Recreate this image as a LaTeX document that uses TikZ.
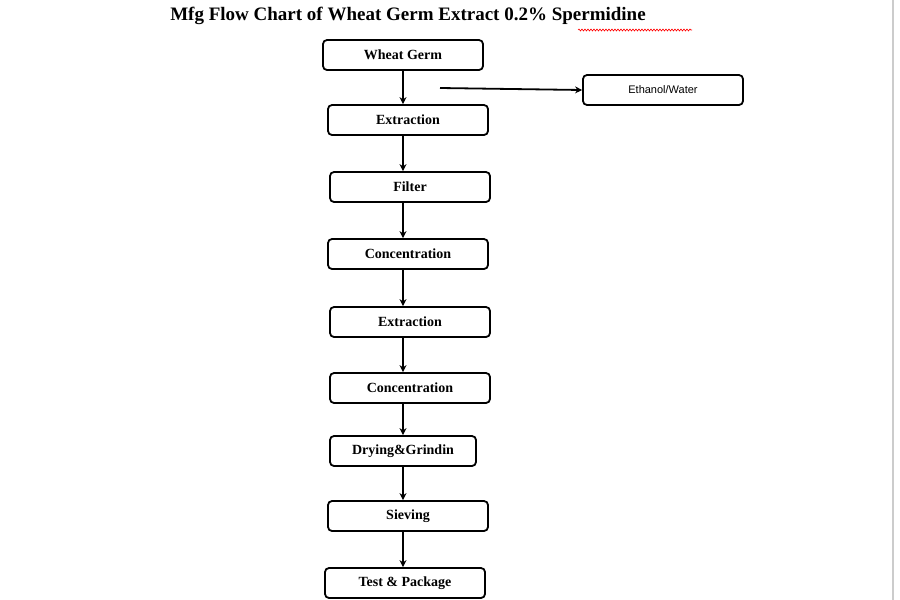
\documentclass[tikz,border=0pt]{standalone}
\usepackage{fontspec}
\setmainfont{Liberation Serif}
\newfontfamily\labelsans{Liberation Sans}
\usetikzlibrary{arrows.meta,decorations.pathmorphing}
\tikzset{
  stepbox/.style={draw,line width=1.8pt,rounded corners=4pt,minimum width=160pt,minimum height=30pt,inner sep=0pt,font=\fontsize{14}{16}\selectfont\bfseries},
  flow/.style={line width=1.8pt,-{Stealth[length=7pt,width=7pt]}}
}
\begin{document}
\begin{tikzpicture}[x=1pt,y=-1pt]
  \useasboundingbox (0,0) rectangle (900,600);
  \fill[white] (0,0) rectangle (900,600);
  \draw[gray!40,line width=2pt] (893,0) -- (893,600);
  % title
  \node (title) at (408,16) {\fontsize{19}{22}\selectfont\bfseries Mfg Flow Chart of Wheat Germ Extract 0.2\% Spermidine};
  \draw[red,line width=0.6pt,decorate,decoration={snake,amplitude=1pt,segment length=3pt}] (578,30) -- (692,30);
  % steps
  \node[stepbox] (germ) at (403,55) {Wheat Germ};
  \node[stepbox] (extr1) at (408,120) {Extraction};
  \node[stepbox] (filter) at (410,187) {Filter};
  \node[stepbox] (conc1) at (408,254) {Concentration};
  \node[stepbox] (extr2) at (410,322) {Extraction};
  \node[stepbox] (conc2) at (410,388) {Concentration};
  \node[stepbox,minimum width=146pt] (dry) at (403,451) {Drying\&Grindin};
  \node[stepbox] (sieve) at (408,516) {Sieving};
  \node[stepbox] (pack) at (405,583) {Test \& Package};
  \node[stepbox,font=\labelsans\fontsize{11}{13}\selectfont] (solv) at (663,90) {Ethanol/Water};
  % arrows
  \coordinate (tap) at (440,88);
  \draw[flow] (germ.south) -- (germ.south |- extr1.north);
  \draw[flow] (tap) -- (solv.west);
  \foreach \a/\b in {extr1/filter,filter/conc1,conc1/extr2,extr2/conc2,conc2/dry,dry/sieve,sieve/pack}
    \draw[flow] (\a.south -| dry.south) -- (\b.north -| dry.south);
\end{tikzpicture}
\end{document}
